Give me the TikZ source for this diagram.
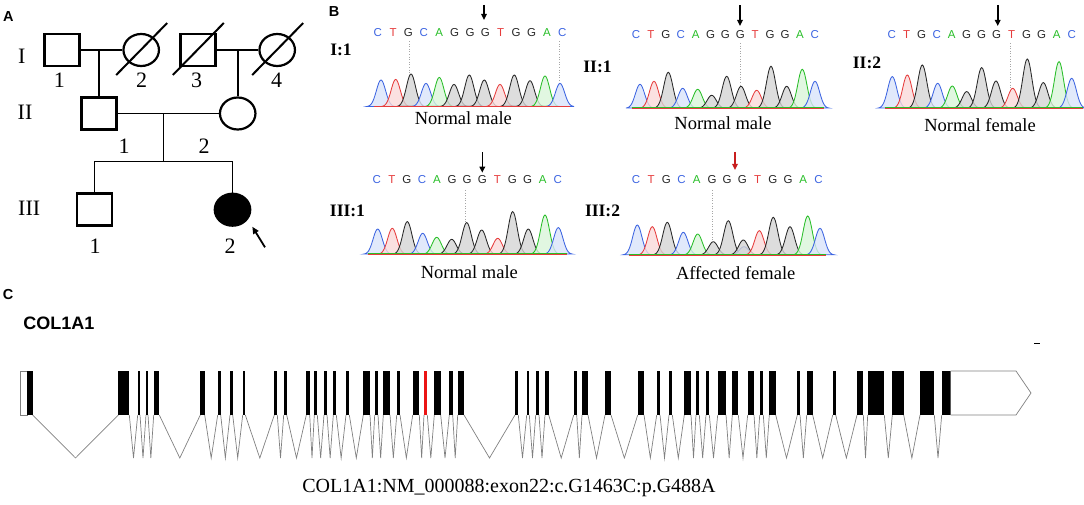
\documentclass[tikz,border=0pt]{standalone}
\usepackage{fontspec}
\setmainfont{Liberation Serif}
\newfontfamily\arialf{Liberation Sans}
\usetikzlibrary{shapes.geometric,arrows.meta}
\definecolor{cC}{RGB}{60,100,225}
\definecolor{cT}{RGB}{230,60,60}
\definecolor{cG}{RGB}{40,40,40}
\definecolor{cA}{RGB}{40,190,40}
\definecolor{fC}{RGB}{218,228,250}
\definecolor{fT}{RGB}{250,218,218}
\definecolor{fG}{RGB}{212,212,212}
\definecolor{fA}{RGB}{218,245,218}
\definecolor{exred}{RGB}{235,20,20}
\definecolor{arred}{RGB}{200,30,30}
\definecolor{intgray}{RGB}{128,128,128}
\newcommand\pk[4]{\filldraw[fill=f#3,draw=c#3,line width=0.85pt,fill opacity=0.8]
  plot[smooth,domain=-14:14,samples=29] ({#1+\x},{#4-#2*exp(0-\x*\x/42)}) -- cycle;}
\newcommand\chromo[2]{\foreach \px/\h/\k in {#2}{\edef\tmpk{\noexpand\pk{\px}{\h}{\k}{#1}}\tmpk}}
\newcommand\seqrow[4]{\foreach \L/\c [count=\i from 0] in {C/cC,T/cT,G/cG,C/cC,A/cA,G/cG,G/cG,G/cG,T/cT,G/cG,G/cG,A/cA,C/cC}
  {\node[seqletter,text=\c] (#1\i) at ({#2+\i*#3},#4) {\L};}}
\begin{document}
\begin{tikzpicture}[x=1pt,y=-1pt,
  male/.style={draw,rectangle,line width=2.6pt,minimum width=35pt,minimum height=32pt,inner sep=0pt},
  female/.style={draw,ellipse,line width=2.2pt,minimum width=35.5pt,minimum height=32pt,inner sep=0pt},
  pline/.style={line width=1.6pt},
  dead/.style={line width=2pt},
  pnum/.style={font=\fontsize{22}{24}\selectfont,inner sep=0pt},
  panel/.style={font=\arialf\bfseries\fontsize{14.5}{16}\selectfont,inner sep=0pt},
  clabel/.style={font=\bfseries\fontsize{17.5}{19}\selectfont,inner sep=0pt},
  caption/.style={font=\fontsize{18.5}{20}\selectfont,inner sep=0pt},
  seqletter/.style={font=\arialf\fontsize{11.5}{12}\selectfont,inner sep=0pt},
  dotline/.style={gray!70,dotted,line width=0.6pt},
  seqarrow/.style={-{Triangle[length=6pt,width=5.5pt]},line width=1.6pt},
  intron/.style={intgray,line width=0.7pt},
  utr/.style={draw=intgray,line width=0.7pt,fill=white}]
\useasboundingbox (0,0) rectangle (1084,505);
% ---------------- Panel A: pedigree ----------------
\node[panel] (pA) at (8.3,16.7) {A};
\node[pnum] (gI) at (21.7,56) {I};
\node[pnum] (gII) at (25,112.5) {II};
\node[pnum] (gIII) at (29.2,208.5) {III};
\node[male] (I1) at (61.7,50) {};
\node[female] (I2) at (141.2,50) {};
\node[male] (I3) at (197.8,50) {};
\node[female] (I4) at (277.2,50) {};
\node[male] (II1) at (99,113.5) {};
\node[female] (II2) at (237.7,113.5) {};
\node[male] (III1) at (94.5,209.7) {};
\node[female,fill=black] (III2) at (232.5,209.7) {};
\foreach \n in {I2,I3,I4}
  \draw[dead] ([shift={(-25,25)}]\n.center) -- ([shift={(26,-27)}]\n.center);
\node[pnum] (nI1) at (59.3,80) {1};
\node[pnum] (nI2) at (141.7,80) {2};
\node[pnum] (nI3) at (196.7,80) {3};
\node[pnum] (nI4) at (276.7,80) {4};
\node[pnum] (nII1) at (124,146.7) {1};
\node[pnum] (nII2) at (204,146.7) {2};
\node[pnum] (nIII1) at (95,246.7) {1};
\node[pnum] (nIII2) at (230,246.7) {2};
\coordinate (m1) at (99,50);
\coordinate (m2) at (237.7,50);
\coordinate (m3) at (163.3,113.5);
\coordinate (sib) at (163.3,161.7);
\draw[pline] (I1.east) -- (I2.west);
\draw[pline] (I3.east) -- (I4.west);
\draw[pline] (m1) -- (II1.north);
\draw[pline] (m2) -- (II2.north);
\draw[pline] (II1.east) -- (II2.west);
\draw[pline] (m3) -- (sib);
\draw[pline] (III1.north) |- (sib) -| (III2.north);
\coordinate (pbt) at (265,247.3);
\coordinate (pbh) at (252.3,226.7);
\draw[line width=1.8pt,-{Triangle[length=7pt,width=6pt]}] (pbt) -- (pbh);
% ---------------- Panel B: chromatograms ----------------
\node[panel] (pB) at (334,12) {B};
% I:1
\node[clabel] (lI1) at (341,50) {I:1};
\seqrow{sa}{377.7}{15.38}{32.7}
\draw[dotline] (409,41) -- (409,78);
\draw[dotline] (559,41) -- (559,84);
\chromo{106.7}{381/26.7/C,395.7/27.3/T,411/32.7/G,426/23.3/C,439.3/29.3/A,454/22.3/G,469.3/31.7/G,484.3/26.7/G,500/22.3/T,514.3/31.7/G,530/26/G,545/30.7/A,560/23.3/C}
\draw[cA,line width=0.5pt] (374.3,106) -- (570,106);
\draw[cT,line width=0.9pt] (374.3,106.7) -- (570,106.7);
\coordinate (a1s) at (484,5); \coordinate (a1e) at (484,20);
\draw[seqarrow] (a1s) -- (a1e);
\node[caption] (cI1) at (463.3,118.3) {Normal male};
% II:1
\node[clabel] (lII1) at (597.5,66.7) {II:1};
\seqrow{sb}{636}{14.9}{35}
\draw[dotline] (740,43) -- (740,86);
\chromo{108.3}{640/24/C,654/27/T,668.3/36/G,682.7/20/C,697.7/19/A,711.7/13/G,726.7/32/G,741/22/G,756.7/18/T,771/42/G,786.7/22/G,802.3/39/A,815/27/C}
\draw[cA,line width=0.5pt] (631.7,107.6) -- (824,107.6);
\draw[cT,line width=0.9pt] (631.7,108.3) -- (824,108.3);
\coordinate (a2s) at (740,5.5); \coordinate (a2e) at (740,26);
\draw[seqarrow] (a2s) -- (a2e);
\node[caption] (cII1) at (723,123.3) {Normal male};
% II:2
\node[clabel] (lII2) at (867,62.5) {II:2};
\seqrow{sc}{891.7}{15}{35}
\draw[dotline] (1010.7,43) -- (1010.7,88);
\chromo{108.3}{892.3/31.7/C,907.3/33.3/T,922.3/43.3/G,937.7/25/C,952.3/22.3/A,966.7/16.7/G,981.7/40.7/G,996/27.3/G,1012.7/20/T,1027.3/49.3/G,1043.3/25.7/G,1059/46.7/A,1071.7/30/C}
\draw[cA,line width=0.5pt] (885,107.6) -- (1083.3,107.6);
\draw[cT,line width=0.9pt] (885,108.3) -- (1083.3,108.3);
\coordinate (a3s) at (997.7,5); \coordinate (a3e) at (997.7,26);
\draw[seqarrow] (a3s) -- (a3e);
\node[caption] (cII2) at (980,125) {Normal female};
% III:1
\node[clabel] (lIII1) at (347.5,211) {III:1};
\seqrow{sd}{376.7}{15.08}{180}
\draw[dotline] (465,190) -- (465,222);
\chromo{254.3}{377.7/25.3/C,392.3/26/T,407.3/32.7/G,422.7/21/C,436.7/17/A,451.7/15/G,466.7/31.7/G,481.7/24.3/G,497.7/16/T,512.7/42.7/G,528.3/25.3/G,545/39.3/A,558.3/26.7/C}
\draw[cA,line width=0.5pt] (367.7,253.6) -- (567.3,253.6);
\draw[cT,line width=0.9pt] (367.7,254.3) -- (567.3,254.3);
\coordinate (a4s) at (482.3,152.5); \coordinate (a4e) at (482.3,172.7);
\draw[seqarrow] (a4s) -- (a4e);
\node[caption] (cIII1) at (469.3,272.3) {Normal male};
% III:2
\node[clabel] (lIII2) at (602.5,211) {III:2};
\seqrow{se}{636}{15.2}{180}
\draw[dotline] (712.7,190) -- (712.7,240);
\chromo{255}{637.3/30/C,652.3/28.3/T,667.3/32.7/G,683.3/22.7/C,697.7/21/A,713.3/13.3/G,728.3/34.3/G,744/8.3/C,743.3/15/G,759.3/24.3/T,773.3/37.7/G,790/28.3/G,807.7/39/A,820/26.7/C}
\draw[cA,line width=0.5pt] (629.3,254.3) -- (826,254.3);
\draw[cT,line width=0.9pt] (629.3,255) -- (826,255);
\coordinate (a5s) at (735,152); \coordinate (a5e) at (735,170);
\draw[seqarrow,arred] (a5s) -- (a5e);
\node[caption] (cIII2) at (735.7,272.7) {Affected female};
% ---------------- Panel C: gene structure ----------------
\node[panel] (pC) at (8,295) {C};
\node[font=\arialf\bfseries\fontsize{18}{20}\selectfont,inner sep=0pt] (gene) at (59,323.3) {COL1A1};
\draw[line width=1.4pt] (1034,343.3) -- (1040,343.3);
\draw[utr] (20.7,371) rectangle (27.3,415);
\fill (27.3,371) rectangle (32.7,415);
\foreach \a/\b [remember=\b as \pb (initially 32.7)] in {118.3/129.3,137.7/140,146/148,153.7/159.3,200.3/204.7,217.7/220.7,230/232.7,242.7/245.3,274.3/277.3,283.7/286.7,306.3/309.7,314.3/317.3,324/327,333.3/336.3,346/349.3,363.3/370,374.7/378,383.3/390,396.7/400,412.7/419.3,424/427.3,434.3/440.7,449.3/452.7,457.7/464,515/518.3,526.7/529.3,535.7/539,545/548.7,573.7/576.7,582/588,605/611,637.7/644,656.7/660,669/672.3,684.3/691,696/699.3,706/709.3,717.7/726,732.3/738.3,747.7/754,759.7/763.3,769.3/775.7,797.3/800,806.7/812.7,832.7/835.7,857/863.3,867.7/884.3,892.3/903.7,920/934.3,941.7/950.7}
{\draw[intron] (\pb,415) -- ({(\pb+\a)/2},458) -- (\a,415);
 \fill (\a,371) rectangle (\b,415);}
\fill[exred] (424,371) rectangle (427.3,415);
\draw[utr] (950.7,371) -- (1016,371) -- (1031,393) -- (1016,415) -- (950.7,415);
\node[font=\fontsize{20}{22}\selectfont,inner sep=0pt] (mut) at (509,488) {COL1A1:NM\_000088:exon22:c.G1463C:p.G488A};
\end{tikzpicture}
\end{document}
